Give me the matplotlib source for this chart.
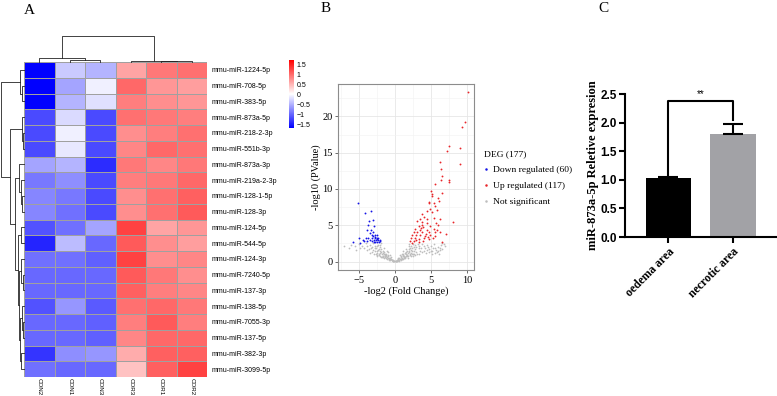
import numpy as np
import matplotlib
matplotlib.use('Agg')
import matplotlib.pyplot as plt
from matplotlib.colors import LinearSegmentedColormap
from matplotlib.lines import Line2D

plt.rcParams['font.serif'] = ['Liberation Serif', 'DejaVu Serif']
plt.rcParams['font.sans-serif'] = ['Liberation Sans', 'DejaVu Sans']

# ---- panel A data: heatmap ----
samples = ['CON2', 'CON1', 'CON3', 'COR3', 'COR1', 'COR2']
mirnas = ['mmu-miR-1224-5p', 'mmu-miR-708-5p', 'mmu-miR-383-5p', 'mmu-miR-873a-5p',
          'mmu-miR-218-2-3p', 'mmu-miR-551b-3p', 'mmu-miR-873a-3p', 'mmu-miR-219a-2-3p',
          'mmu-miR-128-1-5p', 'mmu-miR-128-3p', 'mmu-miR-124-5p', 'mmu-miR-544-5p',
          'mmu-miR-124-3p', 'mmu-miR-7240-5p', 'mmu-miR-137-3p', 'mmu-miR-138-5p',
          'mmu-miR-7055-3p', 'mmu-miR-137-5p', 'mmu-miR-382-3p', 'mmu-miR-3099-5p']
zscores = np.array([
    [-1.70, -0.35, -0.50, 0.60, 0.90, 0.95],
    [-1.70, -0.60, -0.10, 1.00, 0.70, 0.65],
    [-1.70, -0.50, -0.20, 0.85, 0.75, 0.70],
    [-1.20, -0.25, -1.20, 0.95, 0.90, 0.85],
    [-1.20, -0.10, -1.20, 0.75, 0.85, 0.95],
    [-1.20, -0.15, -1.20, 0.80, 1.00, 0.95],
    [-0.60, -0.50, -1.40, 0.90, 0.80, 0.90],
    [-0.90, -0.75, -1.20, 0.85, 0.90, 1.00],
    [-0.80, -0.90, -1.20, 0.75, 0.95, 1.05],
    [-0.80, -0.95, -1.20, 0.75, 0.95, 1.10],
    [-1.15, -0.95, -0.60, 1.25, 0.60, 0.70],
    [-1.45, -0.45, -1.00, 1.10, 0.75, 0.65],
    [-0.95, -0.95, -1.05, 1.25, 0.75, 0.80],
    [-1.00, -1.00, -1.00, 1.10, 0.90, 0.75],
    [-1.00, -1.00, -1.00, 1.05, 0.85, 0.80],
    [-1.15, -0.70, -1.10, 0.95, 1.00, 0.90],
    [-1.00, -1.00, -1.05, 0.85, 1.10, 0.85],
    [-1.00, -1.00, -1.05, 0.80, 1.00, 1.00],
    [-1.35, -0.75, -0.70, 0.55, 1.05, 1.05],
    [-0.95, -1.00, -1.00, 0.40, 1.05, 1.25],
])
# dendrograms as (height, left, right), leaves are row/column indices
col_tree = (10.0, (1.5, 0, (0.8, 1, 2)), (0.5, 3, (0.3, 4, 5)))
row_tree = (10.0,
            (1.7, 0, (0.8, 1, 2)),
            (6.1,
             (1.0, 3, (0.5, 4, 5)),
             (3.75,
              (2.1, 6, (1.3, 7, (1.0, 8, 9))),
              (2.8,
               (1.5, 10, 11),
               (2.0,
                (1.2, 12, (0.6, 13, 14)),
                (1.7, (0.9, 15, (0.5, 16, 17)), (1.3, 18, 19)))))))
cbar_ticks = [1.5, 1, 0.5, 0, -0.5, -1, -1.5]

# ---- panel B data: volcano ----
up_x = [10.1, 9.7, 9.3, 9.0, 9.0, 7.5, 7.2, 6.2, 6.4, 6.6, 7.5, 7.5, 6.4, 5.5, 5.0, 5.1, 5.1,
        6.6, 6.0, 6.1, 4.8, 4.7, 5.4, 5.6, 5.8, 4.9, 4.4, 3.8, 5.1, 4.1, 3.5, 4.4, 5.4, 6.2,
        8.1, 3.1, 3.8, 4.5, 5.7, 3.3, 3.9, 4.9, 6.0, 2.8, 3.5, 4.4, 5.4, 5.8, 2.6, 3.1, 3.8,
        4.7, 5.6, 6.2, 2.4, 3.0, 3.5, 4.2, 4.9, 5.5, 7.1, 2.2, 2.8, 3.4, 4.0, 4.7, 5.3, 2.1,
        2.7, 3.3, 3.9, 6.5, 2.4, 3.6, 4.3, 3.0, 4.6, 3.7]
up_y = [23.3, 19.2, 18.6, 15.6, 13.4, 15.9, 15.3, 13.7, 12.7, 11.8, 11.2, 11.0, 11.3, 10.7,
        9.7, 9.3, 9.0, 9.5, 8.8, 8.3, 8.2, 8.0, 8.1, 7.6, 7.1, 7.3, 7.0, 6.5, 6.8, 6.1, 5.8,
        5.8, 6.0, 5.8, 5.4, 5.6, 5.4, 5.3, 5.3, 4.9, 4.8, 4.9, 5.0, 4.5, 4.4, 4.3, 4.5, 4.4,
        4.1, 4.0, 4.1, 4.0, 4.0, 4.1, 3.6, 3.6, 3.7, 3.5, 3.6, 3.5, 3.8, 3.2, 3.2, 3.1, 3.2,
        3.1, 3.3, 2.8, 2.8, 2.7, 2.8, 2.7, 2.6, 4.6, 3.8, 2.9, 3.4, 5.1]
down_x = [-5.1, -4.1, -3.3, -3.6, -3.0, -2.9, -3.7, -3.3, -3.9, -3.0, -3.5, -5.8, -4.9, -4.4,
          -4.0, -3.7, -3.4, -3.1, -3.0, -2.7, -2.5, -2.3, -2.9, -2.6, -2.3, -2.1, -2.7, -2.5,
          -2.2, -2.9, -3.2, -3.8, -4.3, -4.8, -2.4, -2.7, -3.1, -2.0, -2.4, -2.8]
down_y = [8.0, 6.7, 7.0, 5.6, 5.7, 4.9, 5.0, 4.4, 4.3, 4.0, 3.9, 2.7, 3.3, 3.0, 3.2, 3.3,
          3.0, 3.3, 3.5, 3.4, 3.3, 3.2, 3.0, 3.0, 2.9, 3.0, 2.7, 2.7, 2.7, 2.7, 2.8, 2.8,
          2.8, 2.6, 3.6, 3.7, 3.6, 2.8, 3.1, 3.2]
ns_x = [0.0, 0.1, -0.1, 0.2, -0.2, 0.3, -0.3, 0.4, -0.4, 0.5, -0.5, 0.6, -0.6, 0.7, -0.7,
        0.8, -0.8, 0.9, -0.9, 1.0, -1.0, 1.1, -1.1, 1.2, -1.2, 1.3, -1.3, 1.4, -1.4, 1.5,
        -1.5, 1.6, -1.6, 1.7, -1.7, 1.8, -1.8, 1.9, -1.9, 2.0, -2.0, 2.1, -2.1, 2.2, -2.2,
        2.3, -2.3, 2.4, -2.4, 2.5, -2.5, 2.6, -2.6, 2.8, -2.8, 3.0, -3.0, 3.2, -3.2, 3.4,
        -3.4, 3.6, -3.6, 3.8, -3.8, 4.0, -4.0, 4.2, 4.4, 4.6, 4.8, 5.0, 5.2, 5.4, 5.6, 5.8,
        6.0, 6.2, 6.4, 6.6, 6.8, 5.5, 5.0, 6.0, 4.5, -4.5, -5.0, -5.5, -7.0, -6.0,
        0.5, -0.5, 1.0, -1.0, 1.5, -1.5, 2.0, -2.0, 1.2, -1.2, 0.8, -0.8, 1.7, -1.7, 2.2,
        -2.2, 2.7, -2.7, 3.0, -3.0, 3.5, 3.3, -3.3, 2.5, -2.5, 1.4, -1.4, 0.3, -0.3, 0.6,
        -0.6, 1.9, -1.9, 1.1, -1.1, 0.7, -0.7, 0.9, -0.9, 1.3, -1.3, 1.6, -1.6, 0.4, -0.4,
        2.1, -2.1, 1.8, -1.8, 2.4, -2.4,
        0.25, -0.25, 0.45, -0.45, 0.65, -0.65, 0.85, -0.85, 1.05, -1.05, 1.25, -1.25, 1.45,
        -1.45, 1.65, -1.65, 1.85, -1.85, 2.05, -2.05, 2.25, -2.25, 2.45, -2.45, 2.65, -2.65,
        2.85, -2.85, 3.1, -3.1, 3.4, -3.5, 3.8, -3.9, 4.1, 4.3, 4.7, 5.1, 5.3, 5.7, 6.1, 6.3,
        6.5, 6.9, -4.2, -4.8, -5.3, -6.3, 1.15, -1.15, 1.55, -1.55, 1.95, -1.95, 2.35, -2.35,
        2.75, -2.75, 0.15, -0.15]
ns_y = [0.02, 0.05, 0.04, 0.10, 0.12, 0.20, 0.15, 0.30, 0.25, 0.20, 0.35, 0.45, 0.40, 0.30,
        0.55, 0.60, 0.50, 0.75, 0.70, 0.50, 0.85, 0.90, 0.60, 1.00, 1.00, 0.80, 1.10, 1.20,
        0.90, 1.30, 1.30, 1.00, 1.20, 1.50, 1.50, 1.20, 1.00, 1.70, 1.70, 1.40, 1.40, 1.90,
        2.00, 1.60, 1.70, 2.20, 2.30, 1.80, 1.50, 2.40, 2.10, 2.00, 1.80, 2.30, 2.20, 2.00,
        2.50, 2.40, 2.00, 2.20, 2.30, 1.90, 1.70, 2.40, 2.20, 2.10, 2.50, 1.80, 2.30, 2.00,
        1.70, 2.20, 1.50, 2.40, 1.90, 1.30, 2.00, 1.60, 2.30, 2.60, 2.40, 1.20, 1.40, 1.50,
        1.60, 2.10, 2.40, 2.20, 2.15, 2.30,
        0.50, 0.60, 1.10, 1.30, 1.70, 1.80, 2.20, 2.30, 0.40, 0.50, 0.20, 0.25, 0.90, 0.80,
        1.20, 1.10, 1.50, 1.40, 1.30, 1.60, 1.50, 1.80, 1.90, 1.10, 1.20, 0.60, 0.70, 0.05,
        0.05, 0.10, 0.15, 2.40, 2.50, 1.40, 1.50, 0.90, 0.95, 0.40, 0.45, 0.50, 0.60, 0.70,
        0.75, 0.15, 0.18, 1.10, 1.20, 0.70, 0.60, 1.00, 0.90,
        0.12, 0.10, 0.15, 0.18, 0.25, 0.30, 0.35, 0.40, 0.30, 0.40, 0.60, 0.75, 0.45, 0.55,
        0.70, 0.65, 0.55, 0.60, 0.90, 0.80, 0.75, 0.90, 0.80, 0.70, 1.00, 1.00, 0.90, 1.10,
        1.10, 1.30, 1.00, 1.20, 1.30, 1.60, 1.50, 1.20, 1.30, 1.10, 1.80, 1.60, 1.10, 1.90,
        1.70, 2.20, 1.90, 1.80, 1.60, 1.90, 0.75, 0.95, 1.00, 1.05, 1.25, 1.30, 1.45, 1.60,
        1.75, 1.80, 0.08, 0.07]

# ---- panel C data: bars ----
groups = ['oedema area', 'necrotic area']
means = [1.03, 1.80]
errs = [0.02, 0.17]
bar_colors = ['#000000', '#a2a2a6']

fig = plt.figure(figsize=(7.77, 3.96), dpi=100)
W, H = 777.0, 396.0


def px_axes(x0, y0, x1, y1):
    return fig.add_axes([x0 / W, 1 - y1 / H, (x1 - x0) / W, (y1 - y0) / H])


def draw_tree(ax, node, orient):
    if isinstance(node, int):
        return node + 0.5, 0.0
    h, left, right = node
    p1, h1 = draw_tree(ax, left, orient)
    p2, h2 = draw_tree(ax, right, orient)
    if orient == 'top':
        ax.plot([p1, p1, p2, p2], [h1, h, h, h2], color='#222222', lw=0.6, clip_on=False)
    else:
        ax.plot([h1, h, h, h2], [p1, p1, p2, p2], color='#222222', lw=0.6, clip_on=False)
    return (p1 + p2) / 2, h


# ---- A: heatmap ----
cmap = LinearSegmentedColormap.from_list('bwr_ph', ['#0000ff', '#ffffff', '#ff0000'])
ax_h = px_axes(24, 62, 207, 377)
mesh = ax_h.pcolormesh(zscores, cmap=cmap, vmin=-1.7, vmax=1.7,
                       edgecolors='#a0a0a0', linewidth=0.5)
ax_h.set_xlim(0, len(samples))
ax_h.set_ylim(len(mirnas), 0)
ax_h.set_xticks(np.arange(len(samples)) + 0.5)
ax_h.set_xticklabels(samples, rotation=-90, fontsize=4.5)
ax_h.set_yticks(np.arange(len(mirnas)) + 0.5)
ax_h.set_yticklabels(mirnas, fontsize=5)
ax_h.yaxis.tick_right()
ax_h.tick_params(length=0, pad=3)
ax_h.tick_params(axis='x', pad=0.5)
for s in ax_h.spines.values():
    s.set_visible(False)

ax_cd = px_axes(24, 35, 207, 62)
draw_tree(ax_cd, col_tree, 'top')
ax_cd.set_xlim(0, len(samples))
ax_cd.set_ylim(0, 10.4)
ax_cd.axis('off')

ax_rd = px_axes(1, 62, 24, 377)
draw_tree(ax_rd, row_tree, 'left')
ax_rd.set_xlim(10, 0)
ax_rd.set_ylim(len(mirnas), 0)
ax_rd.axis('off')

cax = px_axes(289, 60, 294, 128)
cb = fig.colorbar(mesh, cax=cax, ticks=cbar_ticks)
cb.outline.set_visible(False)
cb.ax.set_yticklabels([('%g' % t).replace('-', '\u2212') for t in cbar_ticks])
cb.ax.tick_params(length=0, labelsize=5, pad=2)

# ---- B: volcano ----
ax_v = px_axes(338, 84, 474, 270)
ax_v.set_xlim(-7.86, 10.96)
ax_v.set_ylim(-1.17, 24.47)
ax_v.set_xticks([-5, 0, 5, 10])
ax_v.set_yticks([0, 5, 10, 15, 20])
ax_v.set_xticks([-7.5, -2.5, 2.5, 7.5], minor=True)
ax_v.set_yticks([2.5, 7.5, 12.5, 17.5, 22.5], minor=True)
ax_v.grid(which='major', color='#e6e6e6', lw=0.6)
ax_v.grid(which='minor', color='#f2f2f2', lw=0.4)
ax_v.set_axisbelow(True)
ax_v.scatter(ns_x, ns_y, s=1.6, color='#bdbdbd', lw=0)
ax_v.scatter(up_x, up_y, s=1.8, color='#e8262a', lw=0)
ax_v.scatter(down_x, down_y, s=1.8, color='#1414e6', lw=0)
for s in ax_v.spines.values():
    s.set_color('#8c8c8c')
    s.set_linewidth(0.8)
ax_v.tick_params(which='major', length=2.5, width=0.6, color='#555555', pad=1.5)
ax_v.tick_params(which='minor', length=0)
for lab in ax_v.get_xticklabels() + ax_v.get_yticklabels():
    lab.set_family('serif')
    lab.set_fontsize(7.5)
ax_v.set_xlabel('-log2 (Fold Change)', family='serif', fontsize=7.5, labelpad=1)
ax_v.set_ylabel('-log10 (PValue)', family='serif', fontsize=7.5, labelpad=1)

handles = [Line2D([], [], ls='', marker='o', ms=1.8, mew=0, color='#1414e6', label='Down regulated (60)'),
           Line2D([], [], ls='', marker='o', ms=1.8, mew=0, color='#e8262a', label='Up regulated (117)'),
           Line2D([], [], ls='', marker='o', ms=1.8, mew=0, color='#bdbdbd', label='Not significant')]
ax_v.legend(handles=handles, title='DEG (177)', loc='upper left',
            bbox_to_anchor=(484 / W, 1 - 150 / H), bbox_transform=fig.transFigure,
            frameon=False, prop={'family': 'serif', 'size': 6.8},
            title_fontproperties={'family': 'serif', 'size': 6.8}, alignment='left',
            handlelength=0.5, handletextpad=0.5, labelspacing=0.8, borderpad=0,
            borderaxespad=0)

# ---- C: bar chart ----
ax_b = px_axes(625, 94, 777, 237)
xpos = np.arange(len(groups))
ax_b.bar(xpos, means, width=0.7, color=bar_colors, zorder=2)
ax_b.errorbar(xpos, means, yerr=[[0, 0], errs], fmt='none', ecolor='black',
              elinewidth=1.5, capsize=7, capthick=1.5, zorder=3)
ax_b.set_xlim(-0.67, 1.68)
ax_b.set_ylim(0, 2.5)
ax_b.set_yticks([0, 0.5, 1.0, 1.5, 2.0, 2.5])
ax_b.set_yticklabels(['%.1f' % v for v in [0, 0.5, 1.0, 1.5, 2.0, 2.5]],
                     family='sans-serif', fontweight='bold', fontsize=8.5)
ax_b.set_xticks(xpos)
ax_b.set_xticklabels(groups, rotation=45, ha='right', rotation_mode='anchor',
                     family='serif', fontweight='bold', fontsize=8.5)
ax_b.spines['top'].set_visible(False)
ax_b.spines['right'].set_visible(False)
ax_b.spines['left'].set_linewidth(1.5)
ax_b.spines['bottom'].set_linewidth(1.5)
ax_b.tick_params(length=4, width=1.5, pad=2)
ax_b.set_ylabel('miR-873a-5p Reletive expresion', family='serif', fontweight='bold',
                fontsize=9, labelpad=1)
# significance bracket
ax_b.plot([0, 0, 1, 1], [means[0] + 0.04, 2.37, 2.37, 2.05], color='black', lw=1.5,
          clip_on=False)
ax_b.text(0.5, 2.41, '**', ha='center', va='bottom', fontsize=7)

# panel letters
fig.text(29 / W, 1 - 10 / H, 'A', family='serif', fontsize=11, ha='center', va='center')
fig.text(326 / W, 1 - 9 / H, 'B', family='serif', fontsize=11, ha='center', va='center')
fig.text(603 / W, 1 - 9 / H, 'C', family='serif', fontsize=11, ha='center', va='center')

fig.savefig('out.png', dpi=100)
